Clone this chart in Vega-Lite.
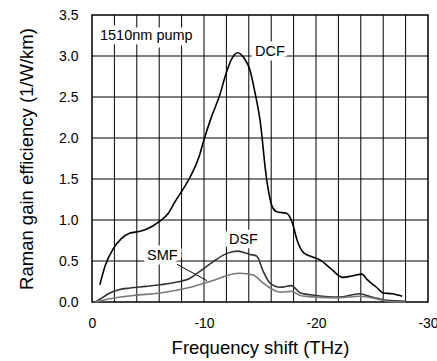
{
  "$schema": "https://vega.github.io/schema/vega-lite/v6.json",
  "width": 336,
  "height": 287,
  "autosize": {"type": "none"},
  "padding": {"left": 92, "top": 15, "right": 9, "bottom": 59},
  "config": {
    "font": "Liberation Sans",
    "view": {"stroke": "black", "strokeWidth": 1.5},
    "axis": {"domain": false, "tickSize": 0, "grid": false,
             "labelFont": "Liberation Sans", "labelFontSize": 14, "labelColor": "black", "labelOverlap": false,
             "titleFont": "Liberation Sans", "titleFontSize": 18.5, "titleFontWeight": "normal", "titleColor": "black"}
  },
  "datasets": {
    "curves": [
      {"s": "DCF", "x": -0.7, "y": 0.21}, {"s": "DCF", "x": -1.2, "y": 0.45}, {"s": "DCF", "x": -1.9, "y": 0.65},
      {"s": "DCF", "x": -2.6, "y": 0.77}, {"s": "DCF", "x": -3.4, "y": 0.84}, {"s": "DCF", "x": -4.2, "y": 0.86},
      {"s": "DCF", "x": -4.9, "y": 0.89}, {"s": "DCF", "x": -6.0, "y": 0.98}, {"s": "DCF", "x": -6.8, "y": 1.08},
      {"s": "DCF", "x": -7.4, "y": 1.22}, {"s": "DCF", "x": -8.1, "y": 1.37}, {"s": "DCF", "x": -8.75, "y": 1.52},
      {"s": "DCF", "x": -9.6, "y": 1.79}, {"s": "DCF", "x": -10.0, "y": 1.98}, {"s": "DCF", "x": -10.7, "y": 2.27},
      {"s": "DCF", "x": -11.4, "y": 2.52}, {"s": "DCF", "x": -12.0, "y": 2.8}, {"s": "DCF", "x": -12.5, "y": 2.97},
      {"s": "DCF", "x": -13.0, "y": 3.04}, {"s": "DCF", "x": -13.6, "y": 2.97}, {"s": "DCF", "x": -14.1, "y": 2.83},
      {"s": "DCF", "x": -14.5, "y": 2.59}, {"s": "DCF", "x": -15.0, "y": 2.22}, {"s": "DCF", "x": -15.6, "y": 1.49},
      {"s": "DCF", "x": -16.1, "y": 1.16}, {"s": "DCF", "x": -16.5, "y": 1.10}, {"s": "DCF", "x": -17.4, "y": 1.08},
      {"s": "DCF", "x": -17.9, "y": 0.96}, {"s": "DCF", "x": -18.3, "y": 0.76}, {"s": "DCF", "x": -18.9, "y": 0.60},
      {"s": "DCF", "x": -19.7, "y": 0.55}, {"s": "DCF", "x": -20.4, "y": 0.51}, {"s": "DCF", "x": -21.3, "y": 0.41},
      {"s": "DCF", "x": -22.4, "y": 0.30}, {"s": "DCF", "x": -23.3, "y": 0.32}, {"s": "DCF", "x": -24.1, "y": 0.34},
      {"s": "DCF", "x": -24.6, "y": 0.27}, {"s": "DCF", "x": -25.4, "y": 0.18}, {"s": "DCF", "x": -26.0, "y": 0.11},
      {"s": "DCF", "x": -26.8, "y": 0.10}, {"s": "DCF", "x": -27.7, "y": 0.07},

      {"s": "DSF", "x": -0.3, "y": 0.0}, {"s": "DSF", "x": -1.0, "y": 0.06}, {"s": "DSF", "x": -1.6, "y": 0.11},
      {"s": "DSF", "x": -2.4, "y": 0.15}, {"s": "DSF", "x": -3.4, "y": 0.17}, {"s": "DSF", "x": -4.8, "y": 0.19},
      {"s": "DSF", "x": -6.1, "y": 0.21}, {"s": "DSF", "x": -7.5, "y": 0.24}, {"s": "DSF", "x": -8.75, "y": 0.29},
      {"s": "DSF", "x": -9.6, "y": 0.37}, {"s": "DSF", "x": -10.8, "y": 0.49}, {"s": "DSF", "x": -12.0, "y": 0.59},
      {"s": "DSF", "x": -13.0, "y": 0.62}, {"s": "DSF", "x": -14.1, "y": 0.58}, {"s": "DSF", "x": -14.7, "y": 0.56},
      {"s": "DSF", "x": -15.3, "y": 0.37}, {"s": "DSF", "x": -15.9, "y": 0.23}, {"s": "DSF", "x": -16.8, "y": 0.18},
      {"s": "DSF", "x": -17.8, "y": 0.20}, {"s": "DSF", "x": -18.6, "y": 0.11}, {"s": "DSF", "x": -20.0, "y": 0.08},
      {"s": "DSF", "x": -22.0, "y": 0.06}, {"s": "DSF", "x": -23.9, "y": 0.10}, {"s": "DSF", "x": -25.0, "y": 0.06},
      {"s": "DSF", "x": -26.3, "y": 0.02}, {"s": "DSF", "x": -28.0, "y": 0.01},

      {"s": "SMF", "x": -0.3, "y": 0.0}, {"s": "SMF", "x": -1.6, "y": 0.04}, {"s": "SMF", "x": -3.7, "y": 0.08},
      {"s": "SMF", "x": -6.1, "y": 0.11}, {"s": "SMF", "x": -8.5, "y": 0.17}, {"s": "SMF", "x": -10.3, "y": 0.24},
      {"s": "SMF", "x": -11.4, "y": 0.29}, {"s": "SMF", "x": -12.0, "y": 0.32}, {"s": "SMF", "x": -13.2, "y": 0.35},
      {"s": "SMF", "x": -14.4, "y": 0.33}, {"s": "SMF", "x": -15.2, "y": 0.24}, {"s": "SMF", "x": -15.9, "y": 0.17},
      {"s": "SMF", "x": -16.8, "y": 0.12}, {"s": "SMF", "x": -17.8, "y": 0.13}, {"s": "SMF", "x": -18.6, "y": 0.08},
      {"s": "SMF", "x": -20.0, "y": 0.06}, {"s": "SMF", "x": -22.0, "y": 0.05}, {"s": "SMF", "x": -23.9, "y": 0.07},
      {"s": "SMF", "x": -25.4, "y": 0.04}, {"s": "SMF", "x": -26.3, "y": 0.01}, {"s": "SMF", "x": -28.0, "y": 0.0}
    ],
    "labels": [
      {"t": "1510nm pump", "x": -0.71, "y": 3.24},
      {"t": "DCF", "x": -14.55, "y": 3.05},
      {"t": "SMF", "x": -4.91, "y": 0.56},
      {"t": "DSF", "x": -12.23, "y": 0.76}
    ],
    "leader": [
      {"x": -7.59, "y": 0.46, "x2": -10.27, "y2": 0.26}
    ],
    "gridx": [
      {"v": -2}, {"v": -4}, {"v": -6}, {"v": -8}, {"v": -10}, {"v": -12}, {"v": -14},
      {"v": -16}, {"v": -18}, {"v": -20}, {"v": -22}, {"v": -24}, {"v": -26}, {"v": -28}
    ],
    "gridy": [
      {"v": 0.5}, {"v": 1.0}, {"v": 1.5}, {"v": 2.0}, {"v": 2.5}, {"v": 3.0}
    ]
  },
  "layer": [
    {
      "data": {"name": "gridx"},
      "mark": {"type": "rule", "color": "black", "strokeWidth": 1},
      "encoding": {
        "x": {"field": "v", "type": "quantitative",
              "scale": {"domain": [0, -30], "nice": false, "zero": false},
              "axis": {"values": [0, -10, -20, -30],
                       "labelExpr": "'' + datum.value",
                       "labelPadding": 14, "labelFlush": false, "labelOverlap": false, "title": "Frequency shift (THz)", "titlePadding": 8}}
      }
    },
    {
      "data": {"name": "gridy"},
      "mark": {"type": "rule", "color": "black", "strokeWidth": 1},
      "encoding": {
        "y": {"field": "v", "type": "quantitative",
              "scale": {"domain": [0, 3.5], "nice": false},
              "axis": {"values": [0, 0.5, 1, 1.5, 2, 2.5, 3, 3.5], "format": ".1f", "labelPadding": 14,
                       "title": "Raman gain efficiency (1/W/km)", "titlePadding": 22}}
      }
    },
    {
      "data": {"name": "labels"},
      "mark": {"type": "text", "align": "left", "baseline": "middle", "fontSize": 14.5, "font": "Liberation Sans",
               "stroke": "white", "strokeWidth": 9, "strokeJoin": "round", "fill": "white"},
      "encoding": {
        "x": {"field": "x", "type": "quantitative"},
        "y": {"field": "y", "type": "quantitative"},
        "text": {"field": "t"}
      }
    },
    {
      "data": {"name": "leader"},
      "mark": {"type": "rule", "color": "black", "strokeWidth": 1},
      "encoding": {
        "x": {"field": "x", "type": "quantitative"},
        "y": {"field": "y", "type": "quantitative"},
        "x2": {"field": "x2"},
        "y2": {"field": "y2"}
      }
    },
    {
      "data": {"name": "curves"},
      "mark": {"type": "line", "interpolate": "monotone", "strokeWidth": 1.6},
      "encoding": {
        "x": {"field": "x", "type": "quantitative"},
        "y": {"field": "y", "type": "quantitative"},
        "detail": {"field": "s"},
        "color": {"field": "s", "type": "nominal", "legend": null,
                  "scale": {"domain": ["DCF", "DSF", "SMF"], "range": ["#000000", "#333333", "#777777"]}}
      }
    },
    {
      "data": {"name": "labels"},
      "mark": {"type": "text", "align": "left", "baseline": "middle", "fontSize": 14.5, "font": "Liberation Sans", "color": "black"},
      "encoding": {
        "x": {"field": "x", "type": "quantitative"},
        "y": {"field": "y", "type": "quantitative"},
        "text": {"field": "t"}
      }
    }
  ]
}
